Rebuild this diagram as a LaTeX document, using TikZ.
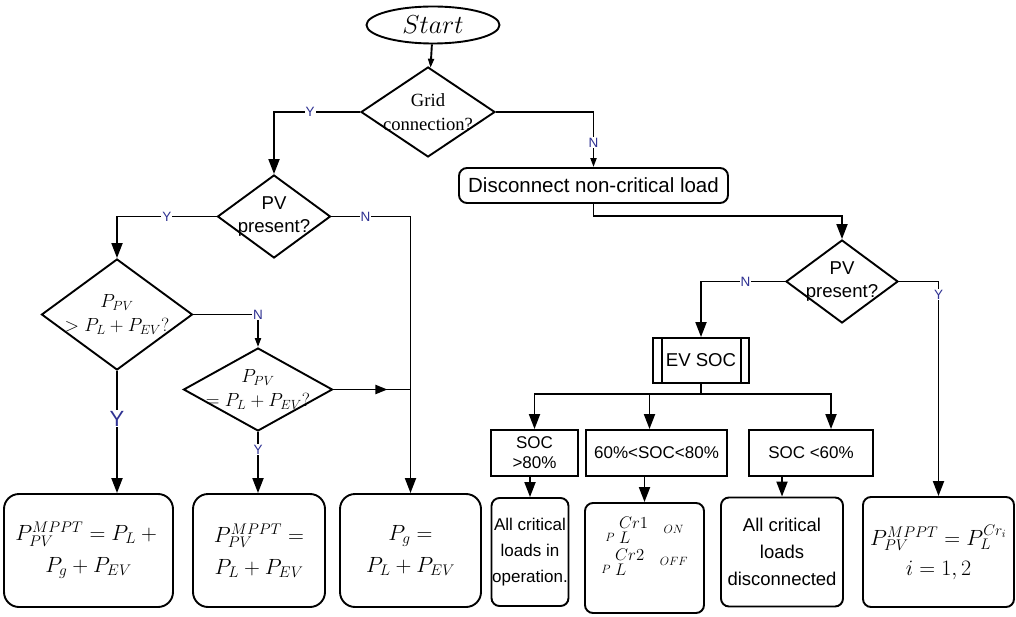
\RequirePackage{fix-cm}
\documentclass[tikz,border=0pt]{standalone}
\usepackage{fontspec}
\setmainfont{Liberation Sans}
\newfontfamily\timesfont{Liberation Serif}
\usetikzlibrary{shapes.geometric,arrows.meta}
\definecolor{ynblue}{RGB}{46,49,146}
\newcommand{\crl}[2]{${}_{\scriptscriptstyle P}\,{}^{Cr#1}_{L}$\hspace{15pt}\raisebox{3.5pt}{$\scriptscriptstyle #2$}}
\begin{document}
\begin{tikzpicture}[x=1pt,y=1pt,line width=1.9pt,
  >={Triangle[length=15pt,width=11pt]},
  sm/.style={-{Triangle[length=9pt,width=6pt]}},
  md/.style={-{Triangle[length=12pt,width=9pt]}},
  decision/.style 2 args={diamond,draw,minimum width=#1,minimum height=#2,inner sep=0pt},
  dtext/.style={align=center,font=\fontsize{18.6}{23}\selectfont},
  box/.style 2 args={draw,rounded corners=8pt,minimum width=#1,minimum height=#2,
    inner sep=1pt,align=center},
  socbox/.style 2 args={draw,minimum width=#1,minimum height=#2,inner sep=1pt,
    align=center,font=\fontsize{17}{20}\selectfont},
  mbox/.style={draw,rounded corners=15pt,minimum width=#1,minimum height=113,
    align=center,font=\fontsize{22}{32}\selectfont},
  yn/.style={font=\fontsize{13.5}{14}\selectfont,text=ynblue,fill=white,inner sep=1pt}]
  \useasboundingbox (0,0) rectangle (1016,-617);
  % top: start and grid test
  \node[ellipse,draw,minimum width=133,minimum height=37,inner sep=0pt,
    font=\fontsize{26}{30}\selectfont] (start) at (433,-25) {$Start$};
  \node[decision={134}{90},label={[dtext,font=\timesfont\fontsize{18.6}{24}\selectfont]center:Grid\\connection?}]
    (grid) at (428,-112) {};
  % grid connected side
  \node[decision={113}{83},label={[dtext]center:PV\\present?}] (pv1) at (274,-216.5) {};
  \node[decision={151}{111},label={[dtext,font=\fontsize{19}{24}\selectfont]center:{$P_{PV}$\\$>P_L+P_{EV}?$}}]
    (d1) at (117,-314.5) {};
  \node[decision={149}{83},label={[dtext,font=\fontsize{19}{24}\selectfont]center:{$P_{PV}$\\$=P_L+P_{EV}?$}}]
    (d2) at (258,-389.5) {};
  \node[mbox=169] (box1) at (88.5,-550.5) {$P_{PV}^{MPPT}=P_L+{}$\\$P_g+P_{EV}$};
  \node[mbox=132] (box2) at (259,-550.5) {$P_{PV}^{MPPT}=$\\$P_L+P_{EV}$};
  \node[mbox=141] (box3) at (410.5,-550.5) {$P_g=$\\$P_L+P_{EV}$};
  % islanded side
  \node[box={269}{35},font=\fontsize{20.5}{24}\selectfont] (disc) at (593.5,-185.5)
    {Disconnect non-critical load};
  \node[decision={112}{83},label={[dtext]center:PV\\present?}] (pv2) at (842,-281.5) {};
  \node[draw,minimum width=96,minimum height=45,inner sep=0pt,
    font=\fontsize{18.6}{22}\selectfont] (ev) at (701,-360.5) {EV SOC};
  \node[socbox={87}{46}] (soca) at (534.5,-453) {SOC\\>80\%};
  \node[socbox={141}{46}] (socb) at (656.5,-453) {60\%<SOC<80\%};
  \node[socbox={124}{46}] (socc) at (811,-453) {SOC <60\%};
  \node[box={77}{108},inner xsep=0pt,font=\fontsize{17}{26}\selectfont] (boxa) at (530,-552)
    {All critical\\loads in\\operation.};
  \node[box={119}{110},font=\fontsize{24}{32}\selectfont] (boxb) at (644.5,-558)
    {\begin{tabular}{@{}c@{}}\crl{1}{ON}\\\crl{2}{OFF}\\[22pt]\end{tabular}};
  \node[box={122}{109},font=\fontsize{18.5}{27}\selectfont] (boxc) at (782,-552)
    {All critical\\loads\\disconnected};
  \node[box={151}{110},font=\fontsize{22}{30}\selectfont] (fin) at (938.5,-552)
    {$P_{PV}^{MPPT}=P_L^{Cr_i}$\\$i=1,2$};
  % connectors
  \draw[sm] (start) -- (grid);
  \draw[->] (grid.west) -| node[yn,pos=.29]{Y} (pv1.north);
  \draw[sm] (grid.east) -| node[yn,pos=.78]{N} (disc.north);
  \draw[->] (pv1.west) -| node[yn,pos=.25]{Y} (d1.north);
  \draw[->] (pv1.east) -| node[yn,pos=.215]{N} (box3.north);
  \draw[sm] (d1.east) -| node[yn,pos=.5]{N} (d2.north);
  \draw (d2.east) -- (d2.east -| box3.north);
  \draw[md] (d2.east) -- ++(54,0);
  \draw[->] (d1.south) -- node[yn,pos=.39,font=\fontsize{22}{22}\selectfont]{Y} (d1.south |- box1.north);
  \draw[->] (d2.south) -- node[yn,pos=.29]{Y} (d2.south |- box2.north);
  \draw[->] (disc.south) -- ++(0,-12) -| (pv2.north);
  \draw[->] (pv2.west) -| node[yn,pos=.235]{N} (ev.north);
  \draw[->] (pv2.east) -| node[yn,pos=.53]{Y} (fin.north);
  \draw ([xshift=10pt]ev.north west) -- ([xshift=10pt]ev.south west);
  \draw ([xshift=-9pt]ev.north east) -- ([xshift=-9pt]ev.south east);
  \draw (ev.south) -- ++(0,-10) coordinate (bus);
  \draw[->] (bus) -| (soca.north);
  \draw[->] (bus) -| ([xshift=-7pt]socb.north);
  \draw[->] (bus) -| ([xshift=20pt]socc.north);
  \draw[->] (boxa.north |- soca.south) -- (boxa.north);
  \draw[->] (boxb.north |- socb.south) -- (boxb.north);
  \draw[->] (boxc.north |- socc.south) -- (boxc.north);
\end{tikzpicture}
\end{document}
